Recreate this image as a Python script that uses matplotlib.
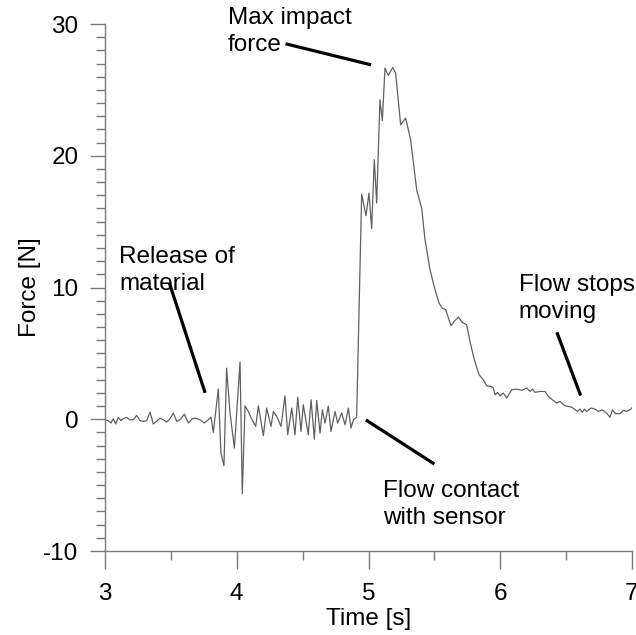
import matplotlib
matplotlib.use("Agg")
import matplotlib.pyplot as plt
from matplotlib.ticker import MultipleLocator

plt.rcParams['font.family'] = ['Liberation Sans', 'DejaVu Sans']
plt.rcParams['axes.unicode_minus'] = False

time_s = [
    3.000, 3.025, 3.046, 3.063, 3.081, 3.101, 3.121, 3.139, 3.164, 3.190,
    3.215, 3.240, 3.266, 3.291, 3.316, 3.342, 3.367, 3.392, 3.417, 3.443,
    3.468, 3.493, 3.519, 3.544, 3.569, 3.602, 3.633, 3.663, 3.688, 3.721,
    3.754, 3.784, 3.805, 3.822, 3.860, 3.880, 3.903, 3.923, 3.949, 3.982,
    4.025, 4.042, 4.063, 4.088, 4.118, 4.144, 4.164, 4.202, 4.227, 4.260,
    4.278, 4.303, 4.336, 4.366, 4.387, 4.417, 4.442, 4.463, 4.488, 4.505,
    4.543, 4.564, 4.589, 4.607, 4.632, 4.650, 4.670, 4.695, 4.715, 4.746,
    4.766, 4.796, 4.822, 4.847, 4.867, 4.885, 4.903, 4.910, 4.948, 4.981,
    5.004, 5.024, 5.044, 5.062, 5.087, 5.105, 5.125, 5.150, 5.184, 5.206,
    5.244, 5.282, 5.320, 5.366, 5.404, 5.429, 5.467, 5.505, 5.535, 5.560,
    5.586, 5.626, 5.651, 5.682, 5.712, 5.745, 5.770, 5.803, 5.839, 5.871,
    5.897, 5.930, 5.947, 5.960, 5.980, 5.998, 6.023, 6.049, 6.087, 6.125,
    6.163, 6.201, 6.226, 6.244, 6.264, 6.302, 6.340, 6.365, 6.395, 6.428,
    6.454, 6.491, 6.542, 6.587, 6.605, 6.623, 6.638, 6.656, 6.689, 6.719,
    6.744, 6.775, 6.808, 6.833, 6.851, 6.876, 6.909, 6.934, 6.959, 6.985,
    7.000,
]
force_n = [
    -0.04, -0.11, -0.28, 0.04, -0.36, 0.14, -0.11, 0.04, 0.14, -0.04,
    -0.04, 0.29, -0.11, -0.16, -0.11, 0.54, -0.36, -0.16, 0.09, -0.04,
    -0.21, 0.04, 0.47, -0.16, -0.04, 0.39, -0.28, 0.04, 0.09, -0.04,
    -0.28, -0.04, 0.16, -1.00, 2.29, -2.57, -3.52, 3.88, 0.47, -2.19,
    4.34, -5.65, 1.02, 0.59, -0.09, -0.54, 1.02, -1.25, 0.85, -0.54,
    0.59, 0.22, -0.54, 1.78, -1.18, 0.85, -1.18, 1.68, -0.92, 1.10,
    -1.18, 1.48, -1.51, 1.43, -1.05, 0.72, -0.29, 1.00, -0.92, 0.59,
    -0.29, 0.47, -0.42, 0.85, -0.67, -0.04, 0.09, 0.16, 17.09, 15.45,
    17.17, 14.46, 19.70, 16.41, 24.25, 22.66, 26.65, 26.10, 26.70, 26.27,
    22.35, 22.86, 21.20, 17.40, 16.00, 13.62, 11.35, 9.83, 8.82, 8.44,
    8.31, 7.10, 7.43, 7.76, 7.35, 7.17, 5.91, 4.52, 3.38, 3.00,
    2.54, 2.49, 2.37, 1.86, 2.04, 1.78, 1.99, 1.61, 2.24, 2.29,
    2.19, 2.37, 2.11, 2.29, 2.04, 2.11, 2.11, 1.73, 1.48, 1.23,
    1.35, 1.02, 0.92, 0.59, 0.77, 0.52, 0.77, 0.59, 0.85, 0.77,
    0.59, 0.72, 0.47, 0.14, 0.72, 0.42, 0.42, 0.67, 0.59, 0.72,
    0.87,
]

x_ticks = [3, 4, 5, 6, 7]
y_ticks = [-10, 0, 10, 20, 30]
y_tick_labels = ["-10", "0", "10", "20", "30"]

annotations = [
    ("Max impact\nforce", 3.93, 31.3, 4.37, 28.5, 5.02, 26.9),
    ("Release of\nmaterial", 3.11, 13.15, 3.49, 10.3, 3.76, 2.0),
    ("Flow contact\nwith sensor", 5.11, -4.6, 4.98, -0.05, 5.50, -3.4),
    ("Flow stops\nmoving", 6.14, 11.0, 6.43, 6.6, 6.61, 1.8),
]

FS = 17.5
GRAY = '#7a7a7a'

fig = plt.figure(figsize=(6.36, 6.35), dpi=100)
ax = fig.add_axes([105/636, 84/635, 527/636, 527/635])

ax.plot(time_s, force_n, color='#606060', lw=0.9)

ax.set_xlim(3, 7)
ax.set_ylim(-10, 30)
ax.set_xticks(x_ticks)
ax.set_yticks(y_ticks)
ax.set_yticklabels(y_tick_labels)
ax.xaxis.set_minor_locator(MultipleLocator(0.5))
ax.yaxis.set_minor_locator(MultipleLocator(1))

for s in ['top', 'right']:
    ax.spines[s].set_visible(False)
for s in ['left', 'bottom']:
    ax.spines[s].set_color(GRAY)
    ax.spines[s].set_linewidth(1.0)

ax.tick_params(axis='x', which='major', direction='out', length=13, width=1.0,
               color=GRAY, labelsize=FS, pad=10)
ax.tick_params(axis='x', which='minor', direction='out', length=6.5, width=1.0, color=GRAY)
ax.tick_params(axis='y', which='major', direction='out', length=11, width=1.0,
               color=GRAY, labelsize=FS, pad=8)
ax.tick_params(axis='y', which='minor', direction='out', length=6.5, width=1.0, color=GRAY)

ax.set_xlabel("Time [s]", fontsize=FS, labelpad=2)
ax.set_ylabel("Force [N]", fontsize=FS, labelpad=2)

for label, tx, ty, x0, y0, x1, y1 in annotations:
    ax.text(tx, ty, label, fontsize=FS, ha='left', va='top', linespacing=1.3,
            clip_on=False)
    ax.plot([x0, x1], [y0, y1], color='black', lw=2.3, clip_on=False,
            solid_capstyle='butt')

fig.savefig("out.png", dpi=100)
